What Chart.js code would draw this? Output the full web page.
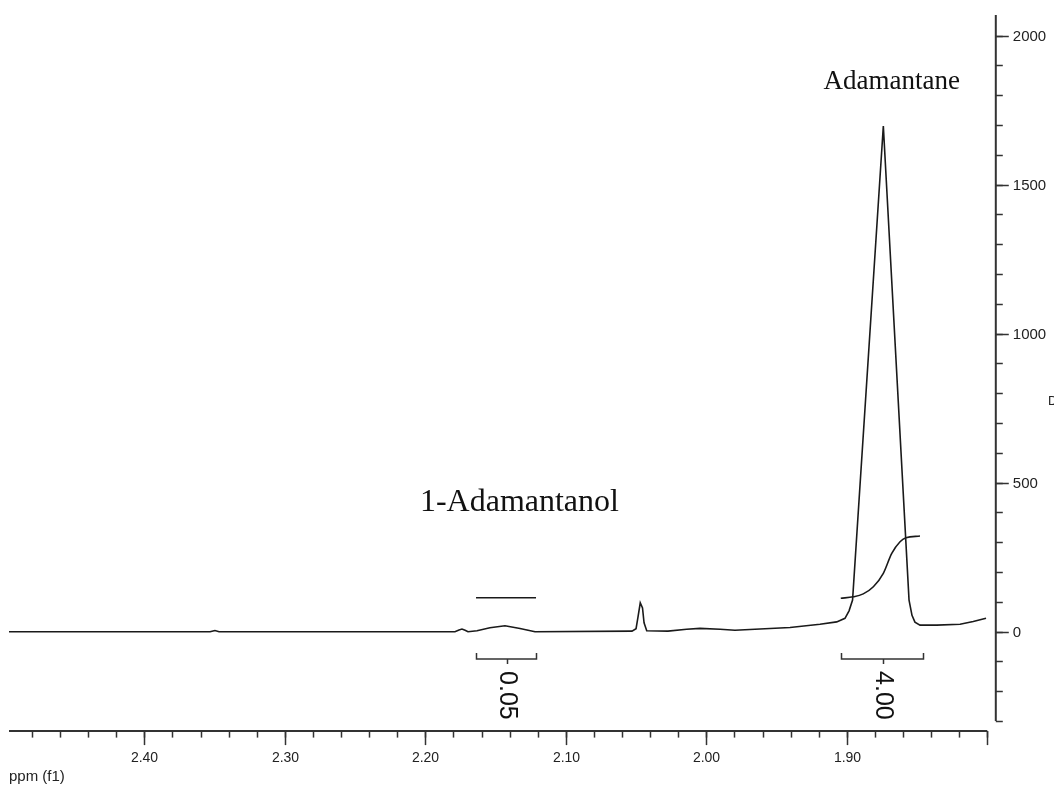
<!DOCTYPE html>
<html>
<head>
<meta charset="utf-8">
<script src="https://cdn.jsdelivr.net/npm/chart.js@4.4.1/dist/chart.umd.min.js"></script>
<style>
  html, body { margin: 0; padding: 0; background: #fff; }
  #wrap { width: 1054px; height: 787px; position: relative; }
</style>
</head>
<body>
<div id="wrap"><canvas id="nmrChart"></canvas></div>
<script>
// 1H trace: chemical shift (ppm) and intensity
var shiftPpm = [2.4963, 2.3532, 2.3497, 2.3468, 2.1789, 2.1760, 2.1739, 2.1717, 2.1696,
  2.1632, 2.1540, 2.1433, 2.1326, 2.1219, 2.0529, 2.0500, 2.0486, 2.0470, 2.0454, 2.0443,
  2.0424, 2.0273, 2.0140, 2.0045, 1.9902, 1.9796, 1.9618, 1.9404, 1.9191, 1.9072, 1.9013,
  1.8984, 1.8959, 1.8740, 1.8557, 1.8536, 1.8515, 1.8479, 1.8360, 1.8194, 1.8100, 1.8009];
var intensity = [0, 0, 4, 0, 0, 6, 9, 5, 0,
  3, 13, 20, 11, 0, 2, 10, 50, 97, 80, 30,
  3, 2, 8, 11, 8, 5, 9, 14, 25, 33, 45,
  70, 106, 1697, 106, 55, 32, 22, 22, 25, 34, 45];

// integral trace over the adamantane signal
var intShiftPpm = [1.9043, 1.8954, 1.8883, 1.8811, 1.8740, 1.8680, 1.8621, 1.8579, 1.8479];
var intValue = [112, 117, 127, 151, 196, 263, 302, 315, 321];

// integral trace over the 1-adamantanol signal (flat)
var intSmallPpm = [2.1639, 2.1212];
var intSmallValue = [114, 114];

// integration regions and their values
var regionFrom = [2.1639, 1.9043];
var regionTo = [2.1212, 1.8456];
var regionLabels = ['0.05', '4.00'];

// peak names, anchored at shift / intensity, with their font sizes
var peakNames = ['1-Adamantanol', 'Adamantane'];
var peakNamePpm = [2.1330, 1.8680];
var peakNameValue = [405, 1821];
var peakNameSize = [32, 27];

// axis ticks
var xMajorTicks = [2.40, 2.30, 2.20, 2.10, 2.00, 1.90, 1.80];
var xTickLabels = ['2.40', '2.30', '2.20', '2.10', '2.00', '1.90', ''];
var yMajorTicks = [2000, 1500, 1000, 500, 0];
var yTickLabels = ['2000', '1500', '1000', '500', '0'];

function toPoints(xs, ys) {
  return xs.map(function (x, i) { return { x: x, y: ys[i] }; });
}

var axesPlugin = {
  id: 'nmrAxes',
  afterDraw: function (chart) {
    var ctx = chart.ctx;
    var xs = chart.scales.x, ys = chart.scales.y, area = chart.chartArea;
    var axisY = area.bottom + 10;
    var axisX = area.right + 8.5;
    var i, v, px, py;

    ctx.save();
    ctx.strokeStyle = '#333';
    ctx.fillStyle = '#222';

    // bottom ppm axis
    ctx.lineWidth = 2;
    ctx.beginPath();
    ctx.moveTo(area.left, axisY);
    ctx.lineTo(area.right, axisY);
    ctx.stroke();
    ctx.lineWidth = 1.5;
    for (v = 1.80; v < 2.4963; v += 0.02) {
      px = Math.round(xs.getPixelForValue(v)) + 0.5;
      ctx.beginPath();
      ctx.moveTo(px, axisY);
      ctx.lineTo(px, axisY + 6.5);
      ctx.stroke();
    }
    ctx.font = '14px "Liberation Sans", Arial, sans-serif';
    ctx.textAlign = 'center';
    ctx.textBaseline = 'middle';
    for (i = 0; i < xMajorTicks.length; i++) {
      px = Math.round(xs.getPixelForValue(xMajorTicks[i])) + 0.5;
      ctx.beginPath();
      ctx.moveTo(px, axisY);
      ctx.lineTo(px, axisY + 14);
      ctx.stroke();
      ctx.fillText(xTickLabels[i], px, axisY + 27);
    }
    ctx.textAlign = 'left';
    ctx.font = '15px "Liberation Sans", Arial, sans-serif';
    ctx.fillText('ppm (f1)', 9, 777);

    // right intensity axis
    ctx.lineWidth = 2;
    ctx.beginPath();
    ctx.moveTo(axisX, area.top);
    ctx.lineTo(axisX, area.bottom);
    ctx.stroke();
    ctx.lineWidth = 1.5;
    for (v = -300; v <= 2000; v += 100) {
      py = Math.round(ys.getPixelForValue(v)) + 0.5;
      ctx.beginPath();
      ctx.moveTo(axisX, py);
      ctx.lineTo(axisX + 7, py);
      ctx.stroke();
    }
    ctx.font = '15px "Liberation Sans", Arial, sans-serif';
    for (i = 0; i < yMajorTicks.length; i++) {
      py = Math.round(ys.getPixelForValue(yMajorTicks[i])) + 0.5;
      ctx.beginPath();
      ctx.moveTo(axisX, py);
      ctx.lineTo(axisX + 13, py);
      ctx.stroke();
      ctx.fillText(yTickLabels[i], axisX + 17, py);
    }
    ctx.font = '13px "Liberation Sans", Arial, sans-serif';
    ctx.fillText('D', 1048, 401);

    // integration brackets with rotated values
    ctx.lineWidth = 1.5;
    var by = axisY - 72;
    for (i = 0; i < regionFrom.length; i++) {
      var x1 = Math.round(xs.getPixelForValue(regionFrom[i])) + 0.5;
      var x2 = Math.round(xs.getPixelForValue(regionTo[i])) + 0.5;
      var xc = Math.round((x1 + x2) / 2) + 0.5;
      ctx.beginPath();
      ctx.moveTo(x1, by - 6);
      ctx.lineTo(x1, by);
      ctx.lineTo(x2, by);
      ctx.lineTo(x2, by - 6);
      ctx.moveTo(xc, by);
      ctx.lineTo(xc, by + 5);
      ctx.stroke();
      ctx.save();
      ctx.translate(xc, by + 12);
      ctx.rotate(Math.PI / 2);
      ctx.font = '25px "Liberation Sans", Arial, sans-serif';
      ctx.textAlign = 'left';
      ctx.textBaseline = 'middle';
      ctx.fillStyle = '#111';
      ctx.fillText(regionLabels[i], 0, 1);
      ctx.restore();
    }

    // peak names
    ctx.textAlign = 'center';
    ctx.textBaseline = 'alphabetic';
    ctx.fillStyle = '#111';
    for (i = 0; i < peakNames.length; i++) {
      ctx.font = peakNameSize[i] + 'px "Liberation Serif", "Times New Roman", serif';
      ctx.fillText(peakNames[i], xs.getPixelForValue(peakNamePpm[i]), ys.getPixelForValue(peakNameValue[i]));
    }
    ctx.restore();
  }
};

var lineStyle = {
  borderColor: '#1a1a1a',
  borderWidth: 1.6,
  pointRadius: 0,
  fill: false
};

new Chart(document.getElementById('nmrChart').getContext('2d'), {
  type: 'line',
  data: {
    datasets: [
      Object.assign({ label: 'spectrum', data: toPoints(shiftPpm, intensity), tension: 0 }, lineStyle),
      Object.assign({ label: 'integral', data: toPoints(intShiftPpm, intValue), cubicInterpolationMode: 'monotone' }, lineStyle),
      Object.assign({ label: 'integral small', data: toPoints(intSmallPpm, intSmallValue), tension: 0 }, lineStyle)
    ]
  },
  options: {
    responsive: true,
    maintainAspectRatio: false,
    animation: false,
    layout: { padding: { left: 9, right: 66.7, top: 15.1, bottom: 65.9 } },
    plugins: { legend: { display: false }, tooltip: { enabled: false } },
    scales: {
      x: { type: 'linear', reverse: true, min: 1.80, max: 2.4963, display: false },
      y: { type: 'linear', min: -300, max: 2069, display: false }
    }
  },
  plugins: [axesPlugin]
});
</script>
</body>
</html>
